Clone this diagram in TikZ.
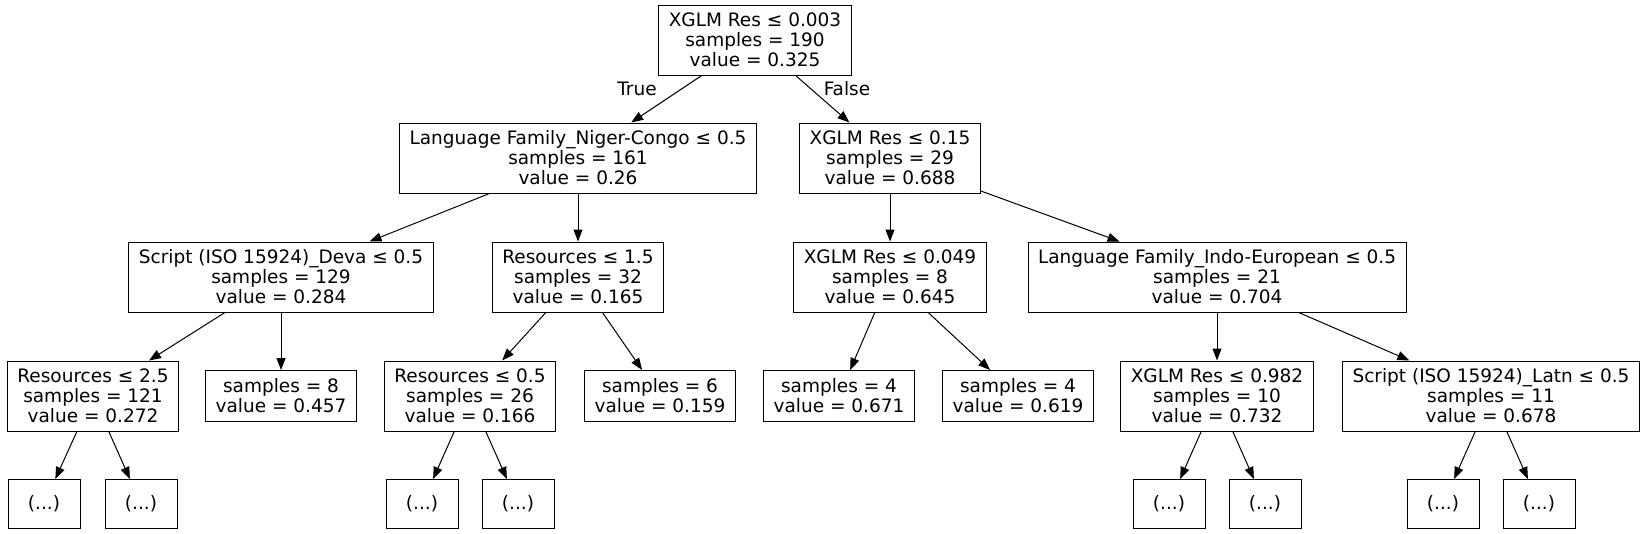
\documentclass[tikz,border=0pt]{standalone}
\usepackage{fontspec}
\setmainfont{DejaVu Sans}
\usetikzlibrary{arrows.meta}

\tikzset{
  box/.style={draw, line width=1pt, align=center, inner xsep=10pt, inner ysep=0pt,
    font=\fontsize{18.5}{20}\selectfont},
  split/.style={box, minimum height=70pt},
  leaf/.style={box, minimum height=51pt},
  more/.style={box, minimum height=49pt, minimum width=72pt},
  >={Triangle[length=12pt,width=9pt]},
}

\begin{document}
\begin{tikzpicture}[x=1pt, y=-1pt, line width=1pt]
                \useasboundingbox (0,0) rectangle (1648,533);

                % level 0 and 1
                \node[split] (root) at (755,40) {XGLM Res ≤ 0.003\\samples = 190\\value = 0.325};
                \node[split] (nc) at (578,158) {Language Family\_Niger-Congo ≤ 0.5\\samples = 161\\value = 0.26};
                \node[split] (x15) at (890,158) {XGLM Res ≤ 0.15\\samples = 29\\value = 0.688};
                \node[font=\fontsize{18.5}{20}\selectfont] (true) at (637,89) {True};
                \node[font=\fontsize{18.5}{20}\selectfont] (false) at (847,89) {False};

                % level 2
                \node[split] (deva) at (281,277) {Script (ISO 15924)\_Deva ≤ 0.5\\samples = 129\\value = 0.284};
                \node[split] (r15) at (578,277) {Resources ≤ 1.5\\samples = 32\\value = 0.165};
                \node[split] (x049) at (890,277) {XGLM Res ≤ 0.049\\samples = 8\\value = 0.645};
                \node[split] (ie) at (1217,277) {Language Family\_Indo-European ≤ 0.5\\samples = 21\\value = 0.704};

                % level 3
                \node[split] (r25) at (93,396) {Resources ≤ 2.5\\samples = 121\\value = 0.272};
                \node[leaf] (s8) at (281,396) {samples = 8\\value = 0.457};
                \node[split] (r05) at (470,396) {Resources ≤ 0.5\\samples = 26\\value = 0.166};
                \node[leaf] (s6) at (660,396) {samples = 6\\value = 0.159};
                \node[leaf] (s4a) at (839,396) {samples = 4\\value = 0.671};
                \node[leaf] (s4b) at (1018,396) {samples = 4\\value = 0.619};
                \node[split] (x982) at (1217,396) {XGLM Res ≤ 0.982\\samples = 10\\value = 0.732};
                \node[split] (latn) at (1491,396) {Script (ISO 15924)\_Latn ≤ 0.5\\samples = 11\\value = 0.678};

                % truncated subtrees
                \node[more] (m1) at (44,504) {(...)};
                \node[more] (m2) at (141,504) {(...)};
                \node[more] (m3) at (422,504) {(...)};
                \node[more] (m4) at (518,504) {(...)};
                \node[more] (m5) at (1169,504) {(...)};
                \node[more] (m6) at (1265,504) {(...)};
                \node[more] (m7) at (1443,504) {(...)};
                \node[more] (m8) at (1539,504) {(...)};

                \draw[->] (root) to (nc);
                \draw[->] (root) to (x15);
                \draw[->] (nc) to (deva);
                \draw[->] (nc) to (r15);
                \draw[->] (x15) to (x049);
                \draw[->] (x15) to (ie);
                \draw[->] (deva) to (r25);
                \draw[->] (deva) to (s8);
                \draw[->] (r15) to (r05);
                \draw[->] (r15) to (s6);
                \draw[->] (x049) to (s4a);
                \draw[->] (x049) to (s4b);
                \draw[->] (ie) to (x982);
                \draw[->] (ie) to (latn);
                \draw[->] (r25) to (m1);
                \draw[->] (r25) to (m2);
                \draw[->] (r05) to (m3);
                \draw[->] (r05) to (m4);
                \draw[->] (x982) to (m5);
                \draw[->] (x982) to (m6);
                \draw[->] (latn) to (m7);
                \draw[->] (latn) to (m8);
            \end{tikzpicture}
\end{document}
